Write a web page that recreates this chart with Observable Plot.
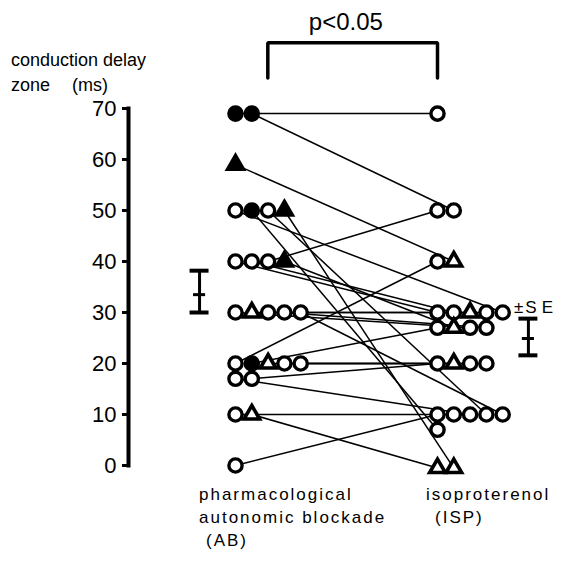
<!DOCTYPE html>
<html><head><meta charset="utf-8">
<script src="https://cdn.jsdelivr.net/npm/d3@7"></script>
<script src="https://cdn.jsdelivr.net/npm/@observablehq/plot@0.6"></script>
<style>body{margin:0;background:#fff}</style>
</head><body><div id="chart"></div>
<script>
// ---- data ----
const groups = ["AB", "ISP"];
// AB column, listed in left-to-right stacking order within each value row
const abValues  = [69,69,59,50,50,50,50,40,40,40,40,30,30,30,30,30,20,20,20,20,20,17,17,10,10,0];
const abMarkers = ["fc","fc","ft","oc","fc","oc","ft","oc","oc","oc","ft","oc","ot","oc","oc","oc","oc","fc","ot","oc","oc","oc","oc","oc","ot","oc"];
// ISP column, listed in left-to-right stacking order within each value row
const ispValues  = [69,50,50,40,40,30,30,30,30,30,27,27,27,27,20,20,20,20,10,10,10,10,10,7,-0.5,-0.5];
const ispMarkers = ["oc","oc","oc","oc","ot","oc","oc","ot","oc","oc","oc","ot","oc","oc","oc","ot","oc","oc","oc","oc","oc","oc","oc","oc","ot","ot"];
// for each AB entry, index of the paired ISP entry
const pairing = [0,2,4,9,23,21,25,5,6,1,11,12,7,8,13,22,3,10,15,16,17,20,14,19,24,18];
const abSE  = {mean: 33.5, low: 30.0, high: 38.2};
const ispSE = {mean: 24.9, low: 21.6, high: 28.8};
const yTicks = [0,10,20,30,40,50,60,70];

// ---- layout ----
const step = 16.3 / 202;          // horizontal stacking offset in x units
function stackIndex(values) {
  const out = []; let prev = null, k = 0;
  values.forEach(v => { if (v === prev) k++; else { k = 0; prev = v; } out.push(k); });
  return out;
}
const abIdx = stackIndex(abValues), ispIdx = stackIndex(ispValues);
const ab = abValues.map((v, i) => ({x: 0 + abIdx[i] * step, y: v, m: abMarkers[i]}));
const isp = ispValues.map((v, i) => ({x: 1 + ispIdx[i] * step, y: v, m: ispMarkers[i]}));
const links = ab.map((d, i) => ({x1: d.x, y1: d.y, x2: isp[pairing[i]].x, y2: isp[pairing[i]].y}));
const pts = ab.concat(isp);

const xAB = -0.178, xISP = 1.45;   // error bar positions
const cap = 0.047, mid = 0.03;
const se = [{x: xAB, ...abSE}, {x: xISP, ...ispSE}];

const bx0 = 0.16, bx1 = 1.0, byTop = 82.9, byBot = 76.0;
const bracket = [{x: bx0, y: byBot}, {x: bx0, y: byTop}, {x: bx1, y: byTop}, {x: bx1, y: byBot}];
const FONT = "Liberation Sans, Arial, Helvetica, sans-serif";

const chart = Plot.plot({
  width: 567, height: 568,
  marginLeft: 128, marginTop: 108, marginBottom: 103, marginRight: 0,
  style: {fontFamily: FONT, color: "black", background: "white"},
  x: {domain: [0, 1], range: [235, 437], axis: null},
  y: {domain: [0, 70], label: null},
  marks: [
    Plot.frame({anchor: "left", strokeWidth: 4, stroke: "black"}),
    Plot.axisY({ticks: yTicks, tickSize: 6, tickPadding: 6, fontSize: 22, strokeWidth: 3}),
    Plot.link(links, {x1: "x1", y1: "y1", x2: "x2", y2: "y2", stroke: "black", strokeWidth: 1.5}),
    Plot.dot(pts.filter(d => d.m === "oc"), {x: "x", y: "y", r: 6.6, symbol: "circle", fill: "white", stroke: "black", strokeWidth: 3.4}),
    Plot.dot(pts.filter(d => d.m === "fc"), {x: "x", y: "y", r: 6.6, symbol: "circle", fill: "black", stroke: "black", strokeWidth: 3.4}),
    Plot.dot(pts.filter(d => d.m === "ot"), {x: "x", y: "y", r: 5.8, symbol: "triangle", fill: "white", stroke: "black", strokeWidth: 3.6, strokeLinejoin: "miter"}),
    Plot.dot(pts.filter(d => d.m === "ft"), {x: "x", y: "y", r: 5.8, symbol: "triangle", fill: "black", stroke: "black", strokeWidth: 3.6, strokeLinejoin: "miter"}),
    // error bars
    Plot.ruleX(se, {x: "x", y1: "low", y2: "high", strokeWidth: 3}),
    Plot.ruleY(se, {y: "high", x1: d => d.x - cap, x2: d => d.x + cap, strokeWidth: 4}),
    Plot.ruleY(se, {y: "low", x1: d => d.x - cap, x2: d => d.x + cap, strokeWidth: 4}),
    Plot.ruleY(se, {y: "mean", x1: d => d.x - mid, x2: d => d.x + mid, strokeWidth: 3}),
    // significance bracket
    Plot.line(bracket, {x: "x", y: "y", stroke: "black", strokeWidth: 3.5, strokeLinejoin: "miter"}),
    Plot.text(["p<0.05"], {x: bx0 + (bx1 - bx0) * 0.46, y: byTop, dy: -20, fontSize: 24, textAnchor: "middle", fill: "black"})
  ]
});

const svg = d3.select(chart);
function txt(s, x, y, size, ls) {
  const t = svg.append("text").attr("x", x).attr("y", y)
    .attr("font-size", size).attr("fill", "black").attr("text-anchor", "start")
    .attr("font-family", FONT);
  if (ls) t.attr("letter-spacing", ls);
  t.text(s);
  return t;
}
txt("conduction delay", 11, 66, 18);
const z = txt("zone", 11, 91, 18);
z.append("tspan").attr("x", 72).text("(ms)");
const pm = txt("±", 514, 313, 17);
pm.append("tspan").attr("dx", 2).attr("letter-spacing", 5).text("SE");
txt("pharmacological", 199, 500, 17, 2);
txt("autonomic blockade", 199, 523, 17, 2);
txt("(AB)", 206, 546, 17, 2);
txt("isoproterenol", 426, 500, 17, 2);
txt("(ISP)", 435, 523, 17, 2);

document.getElementById("chart").appendChild(chart);
</script>
</body></html>
